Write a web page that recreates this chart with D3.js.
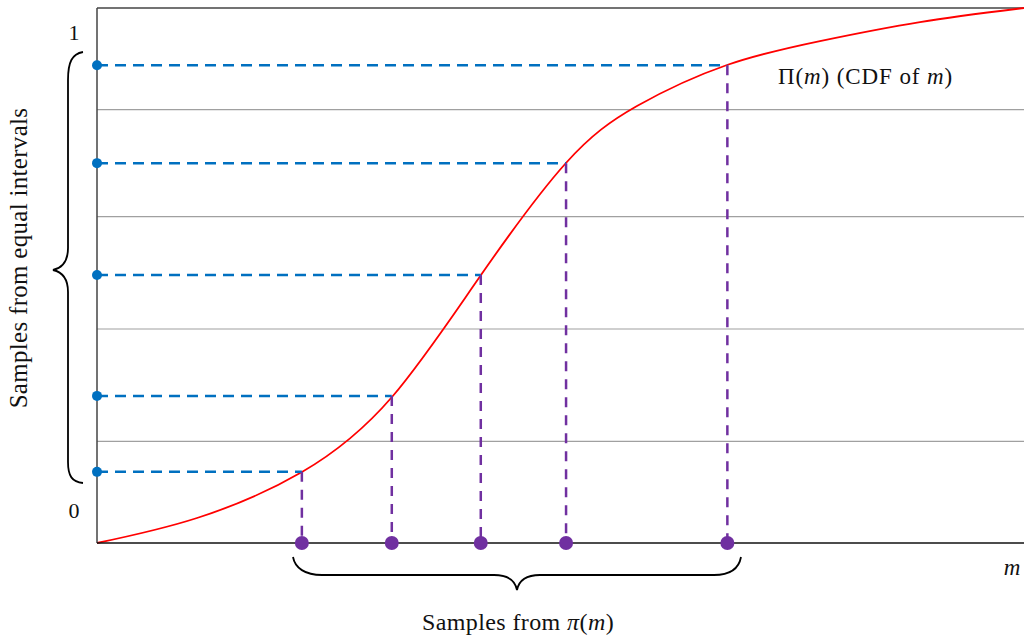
<!DOCTYPE html>
<html><head><meta charset="utf-8">
<script src="https://cdn.jsdelivr.net/npm/d3@7"></script>
<style>body{margin:0;background:#fff}svg{display:block}text{font-family:"Liberation Serif","Times New Roman",serif;fill:#111}</style>
</head><body><svg id="c" width="1024" height="638"></svg>
<script>
// data
const gridValues = [0.19, 0.40, 0.61, 0.81];
const uniformSamples = [0.893, 0.710, 0.501, 0.275, 0.133];
const mSamples = [0.221, 0.318, 0.414, 0.506, 0.680];
const cdfM = [0, 0.1079, 0.2211, 0.3182, 0.4142, 0.5059, 0.5825, 0.6796, 0.7799, 0.8878, 1];
const cdfP = [0, 0.0467, 0.1327, 0.2729, 0.5009, 0.7103, 0.8168, 0.8935, 0.9383, 0.9738, 1];
const yTickLabels = ["0", "1"];

const svg = d3.select("#c");
const x = d3.scaleLinear().domain([0, 1]).range([97, 1024]);
const y = d3.scaleLinear().domain([0, 1]).range([543, 8]);

// gridlines
svg.selectAll(".g").data(gridValues).join("line")
  .attr("x1", x(0)).attr("x2", x(1)).attr("y1", d => y(d)).attr("y2", d => y(d))
  .attr("stroke", "#a0a0a0").attr("stroke-width", 1.2);

// top frame line
svg.append("line").attr("x1", x(0)).attr("x2", x(1)).attr("y1", y(1)).attr("y2", y(1))
  .attr("stroke", "#444").attr("stroke-width", 1.5);

// curve
const curvePts = cdfM.map((m, i) => [m, cdfP[i]]);
svg.append("path").datum(curvePts)
  .attr("d", d3.line().x(d => x(d[0])).y(d => y(d[1])).curve(d3.curveNatural))
  .attr("fill", "none").attr("stroke", "#ff0000").attr("stroke-width", 1.8);

// dashed guides
uniformSamples.forEach((p, i) => {
  const m = mSamples[mSamples.length - 1 - i];
  svg.append("line").attr("x1", x(0)).attr("x2", x(m)).attr("y1", y(p)).attr("y2", y(p))
    .attr("stroke", "#0070C0").attr("stroke-width", 2.5).attr("stroke-dasharray", "11,7");
  svg.append("line").attr("x1", x(m)).attr("x2", x(m)).attr("y1", y(p)).attr("y2", y(0))
    .attr("stroke", "#7030A0").attr("stroke-width", 2.5).attr("stroke-dasharray", "10,8");
});

// axes
svg.append("line").attr("x1", x(0)).attr("x2", x(0)).attr("y1", y(1)).attr("y2", y(0))
  .attr("stroke", "#444").attr("stroke-width", 1.5);
svg.append("line").attr("x1", x(0)).attr("x2", x(1)).attr("y1", y(0)).attr("y2", y(0))
  .attr("stroke", "#111").attr("stroke-width", 1.5);

// dots
svg.selectAll(".b").data(uniformSamples).join("circle")
  .attr("cx", x(0)).attr("cy", d => y(d)).attr("r", 5).attr("fill", "#0070C0");
svg.selectAll(".p").data(mSamples).join("circle")
  .attr("cx", d => x(d)).attr("cy", y(0)).attr("r", 7).attr("fill", "#7030A0");

// braces
svg.append("path")
  .attr("d", "M83,52 C72,54 68,62 68,80 L68,248 C68,262 62,268 53,270 C62,272 68,278 68,292 L68,462 C68,476 72,482 83,483")
  .attr("fill", "none").attr("stroke", "#000").attr("stroke-width", 1.8);
svg.append("path")
  .attr("d", "M293,557 C295,568 305,575 322,575 L494,575 C508,575 515,580 517,590 C519,580 526,575 540,575 L714,575 C731,575 739,568 741,557")
  .attr("fill", "none").attr("stroke", "#000").attr("stroke-width", 1.8);

// texts
svg.selectAll(".yt").data(yTickLabels).join("text")
  .attr("x", 74).attr("y", (d, i) => i === 0 ? 518 : 40)
  .attr("text-anchor", "middle").attr("font-size", 22).text(d => d);

const lbl = svg.append("text").attr("x", 778).attr("y", 84).attr("font-size", 23).attr("letter-spacing", 0.9);
lbl.append("tspan").text("Π(");
lbl.append("tspan").attr("font-style", "italic").text("m");
lbl.append("tspan").text(") (CDF of ");
lbl.append("tspan").attr("font-style", "italic").text("m");
lbl.append("tspan").text(")");

svg.append("text").attr("x", 1012).attr("y", 575).attr("text-anchor", "middle")
  .attr("font-size", 23).attr("font-style", "italic").text("m");

const bl = svg.append("text").attr("x", 518).attr("y", 630).attr("text-anchor", "middle").attr("font-size", 24).attr("letter-spacing", 0.4);
bl.append("tspan").text("Samples from ");
bl.append("tspan").attr("font-style", "italic").text("π");
bl.append("tspan").text("(");
bl.append("tspan").attr("font-style", "italic").text("m");
bl.append("tspan").text(")");

svg.append("text").attr("transform", "translate(27,258) rotate(-90)")
  .attr("text-anchor", "middle").attr("font-size", 25).attr("letter-spacing", 0.3).text("Samples from equal intervals");
</script></body></html>
